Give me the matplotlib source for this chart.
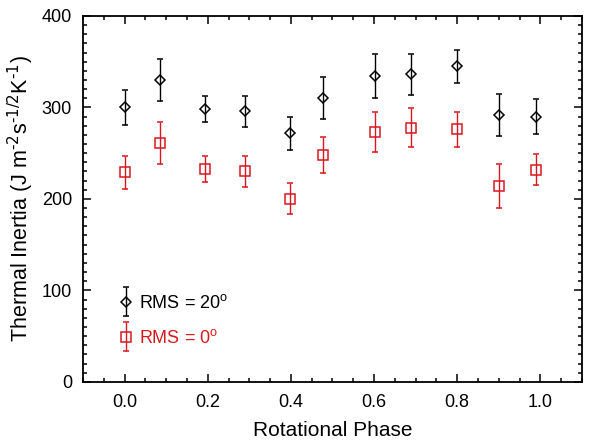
import numpy as np
import matplotlib.pyplot as plt
from matplotlib.ticker import MultipleLocator
from matplotlib.legend_handler import HandlerErrorbar

plt.rcParams['font.family'] = ['Liberation Sans', 'DejaVu Sans']
plt.rcParams['mathtext.default'] = 'regular'
plt.rcParams['axes.unicode_minus'] = False

# rotational phase of each observation
phase = [0.0, 0.086, 0.193, 0.29, 0.397, 0.476, 0.602, 0.69, 0.8, 0.9, 0.989]
# thermal inertia, RMS = 20 deg
ti_20 = [300, 330, 298, 296, 272, 310, 334, 336, 345, 292, 290]
err_20 = [19, 23, 14, 17, 18, 23, 24, 22, 18, 23, 19]
# thermal inertia, RMS = 0 deg
ti_0 = [229, 261, 233, 230, 200, 248, 273, 278, 276, 214, 232]
err_0 = [18, 23, 14, 17, 17, 20, 22, 21, 19, 24, 17]

red = '#d7191f'

fig = plt.figure(figsize=(5.98, 4.43), dpi=100)
ax = fig.add_axes([0.139, 0.138, 0.834, 0.826])

h1 = ax.errorbar(phase, ti_20, yerr=err_20, fmt='D', ms=5, mfc='none', mec='black',
                 mew=1.1, ecolor='black', elinewidth=1, capsize=2.5, capthick=1)
h2 = ax.errorbar(phase, ti_0, yerr=err_0, fmt='s', ms=7, mfc='none', mec=red,
                 mew=1.1, ecolor=red, elinewidth=1, capsize=2.5, capthick=1)

leg = ax.legend([h1, h2], ['RMS = 20$^o$', 'RMS = 0$^o$'], loc='lower left',
                frameon=False, fontsize=13, handlelength=0.6, handletextpad=0.4,
                labelspacing=0.95, borderaxespad=0.0, bbox_to_anchor=(0.061, 0.075),
                labelcolor=['black', red],
                handler_map={type(h1): HandlerErrorbar(yerr_size=0.8)})

ax.set_xlim(-0.1, 1.1)
ax.set_ylim(0, 400)
ax.xaxis.set_major_locator(MultipleLocator(0.2))
ax.xaxis.set_minor_locator(MultipleLocator(0.05))
ax.yaxis.set_major_locator(MultipleLocator(100))
ax.yaxis.set_minor_locator(MultipleLocator(10))
ax.xaxis.set_major_formatter(plt.FuncFormatter(lambda v, p: '%.1f' % v))
ax.tick_params(which='both', direction='in', top=True, right=True, labelsize=13, width=1.1)
ax.tick_params(which='major', length=6)
ax.tick_params(axis='x', which='major', pad=9)
ax.tick_params(axis='y', which='major', pad=8)
ax.tick_params(which='minor', length=3)
for s in ax.spines.values():
    s.set_linewidth(1.3)

ax.set_xlabel('Rotational Phase', fontsize=15, labelpad=7)
ax.set_ylabel(r'Thermal Inertia (J m$^{\text{-2}}$s$^{\text{-1/2}}$K$^{\text{-1}}$)',
              fontsize=15.5, labelpad=4)

plt.savefig('out.png')
